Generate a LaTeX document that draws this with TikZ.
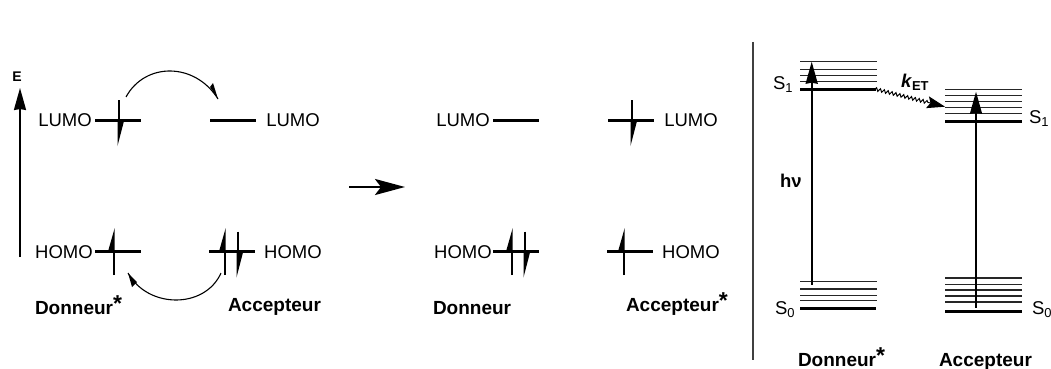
\documentclass[tikz,border=0pt]{standalone}
\usepackage{fontspec}
\setmainfont{Liberation Sans}
\usetikzlibrary{arrows.meta}
\usetikzlibrary{decorations.pathmorphing}
\newcommand{\starup}{\raisebox{3pt}{\fontsize{23}{23}\selectfont *}}

\begin{document}
\begin{tikzpicture}[x=1pt,y=-1pt]
  \tikzset{txt/.style = {inner sep = 0pt, outer sep = 0pt, font=\fontsize{18.5}{20}\selectfont},
    bold/.style = {inner sep = 0pt, outer sep = 0pt, anchor=base west, font=\fontsize{19}{20}\selectfont\bfseries},
    level/.style = {line width=3pt},
    thin level/.style = {line width=1.4pt, black!85},
    vib/.style = {line width=1.9pt, -{Stealth[length=22pt,width=12pt,inset=1pt]}},
    curved/.style = {line width=1.1pt},
    spindown/.pic = {\draw[line width=1.7pt] (0,-20) -- (0,2);
      \fill (5,1) -- (-1.5,26) -- (-1.5,1) -- cycle;},
    spinup/.pic = {\draw[line width=1.7pt] (0,23.5) -- (0,-2);
      \fill (0.7,-23.5) -- (-6,0) -- (0.7,0) -- cycle;}}
  \useasboundingbox (0,0) rectangle (1051,369);

  % energie
  \node[bold,anchor=center,font=\fontsize{14}{14}\selectfont\bfseries] (e) at (17,77) {E};
  \coordinate (e0) at (20,257);
  \coordinate (e1) at (20,88);
  \draw[vib] (e0) -- (e1);

  % donneur* et accepteur
  \node[txt] (lumoa) at (65,120) {LUMO};
  \node[txt] (lumob) at (293,120) {LUMO};
  \node[txt] (homoa) at (64,252) {HOMO};
  \node[txt] (homob) at (293,252) {HOMO};
  \draw[level] (95,120) -- (141,120);
  \draw[level] (210,120) -- (256,120);
  \draw[level] (95,251.5) -- (141,251.5);
  \draw[level] (209,251.5) -- (255,251.5);
  \pic at (119,120) {spindown};
  \pic at (114,251.5) {spinup};
  \pic at (225,251.5) {spinup};
  \pic at (238,251.5) {spindown};
  \coordinate (ha) at (126,97);
  \coordinate (hb) at (218,99);
  \coordinate (ba) at (221,273);
  \coordinate (bb) at (128,273);
  \draw[curved] (ha) .. controls (145,62) and (195,62) .. (hb);
  \fill (hb) -- (213,83) -- (210,87) -- cycle;
  \draw[curved] (ba) .. controls (205,309) and (148,309) .. (bb);
  \fill (bb) -- (132,287) -- (137,282) -- cycle;
  \node[bold] (don) at (35,314) {Donneur\starup};
  \node[bold] (acc) at (228,311) {Accepteur};

  % fleche
  \coordinate (fa) at (349,187);
  \coordinate (fb) at (405,187);
  \draw[line width=2.5pt,-{Stealth[length=30pt,width=16pt,inset=6pt]}] (fa) -- (fb);

  % donneur et accepteur*
  \node[txt] (lumoc) at (463,120) {LUMO};
  \node[txt] (lumod) at (691,120) {LUMO};
  \node[txt] (homoc) at (463,252) {HOMO};
  \node[txt] (homod) at (691,252) {HOMO};
  \draw[level] (493,120) -- (539,120);
  \draw[level] (608,120) -- (654,120);
  \draw[level] (493,251.5) -- (539,251.5);
  \draw[level] (607,251.5) -- (653,251.5);
  \pic at (632,120) {spindown};
  \pic at (512,251.5) {spinup};
  \pic at (525,251.5) {spindown};
  \pic at (624,251.5) {spinup};
  \node[bold] (donb) at (433,314) {Donneur};
  \node[bold] (accb) at (626,311) {Accepteur\starup};

  % separation
  \coordinate (sa) at (753,42);
  \coordinate (sb) at (753,360);
  \draw[line width=1.2pt,black!75] (sa) -- (sb);

  % niveaux
  \foreach \y in {61.7,69.3,75.7,81.7,281.3,289,295.3,300.7}
    \draw[thin level] (800,\y) -- (877,\y);
  \foreach \y in {89.3,95.7,101.7,107.3,113.3,278,284.7,290,296,302}
    \draw[thin level] (945,\y) -- (1022,\y);
  \draw[level] (800,89) -- (876,89);
  \draw[level] (800,308.7) -- (876,308.7);
  \draw[level] (945,121.3) -- (1022,121.3);
  \draw[level] (945,311.3) -- (1022,311.3);

  \coordinate (da) at (811.7,284.7);
  \coordinate (db) at (811.7,61.7);
  \coordinate (aa) at (976,307.7);
  \coordinate (ab) at (976,91.7);
  \draw[vib] (da) -- (db);
  \draw[vib] (aa) -- (ab);
  \coordinate (wa) at (875,89);
  \coordinate (wb) at (945,106.7);
  \draw[line width=1pt,decorate,decoration={snake,amplitude=1.6pt,segment length=4pt,post length=17pt},
    -{Stealth[length=18pt,width=12pt,inset=3pt]}] (wa) -- (wb);

  \node[txt,anchor=west] (sua) at (773,85) {S\textsubscript{1}};
  \node[txt,anchor=west] (sza) at (775,310) {S\textsubscript{0}};
  \node[txt,anchor=west] (sub) at (1029,119) {S\textsubscript{1}};
  \node[txt,anchor=west] (szb) at (1032,310) {S\textsubscript{0}};
  \node[txt,anchor=west,font=\fontsize{18.5}{20}\selectfont\bfseries] (ket) at (901,82) {\textit{k}\textsubscript{ET}};
  \node[txt,anchor=west,font=\fontsize{18.5}{20}\selectfont\bfseries] (hnu) at (780,181) {hν};
  \node[bold] (donc) at (798,366) {Donneur\starup};
  \node[bold] (accc) at (939,366) {Accepteur};
\end{tikzpicture}
\end{document}
